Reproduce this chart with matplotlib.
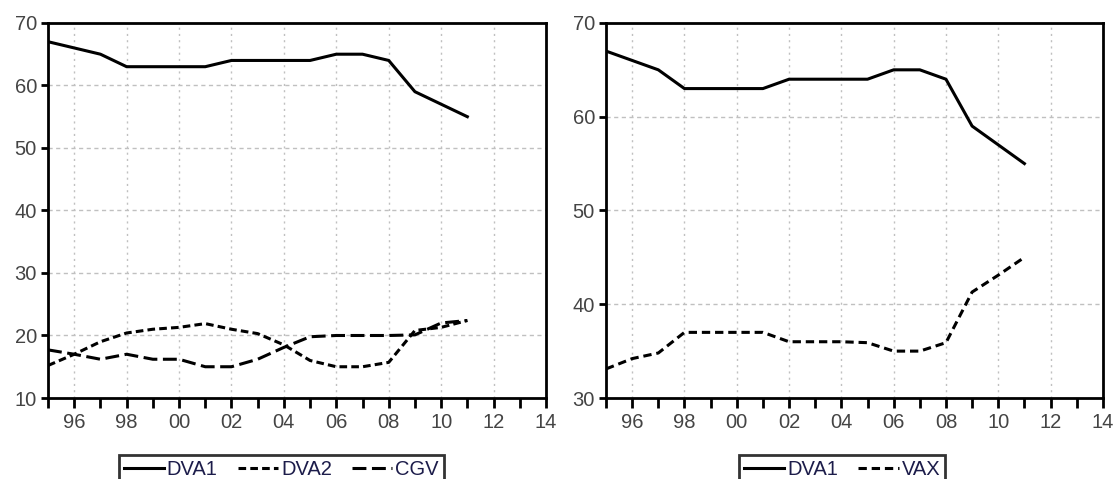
import matplotlib.pyplot as plt
import matplotlib.ticker as mticker
import numpy as np

# values (yearly, 1995-2011)
years = np.arange(1995, 2012)
dva1 = [67, 66, 65, 63, 63, 63, 63, 64, 64, 64, 64, 65, 65, 64, 59, 57, 55]
dva2 = [15.2, 17, 19, 20.4, 21, 21.3, 21.9, 21, 20.3, 18.5, 16, 15, 15, 15.7, 20.8, 21.3, 22.4]
cgv = [17.7, 17, 16.2, 17, 16.2, 16.2, 15, 15, 16.2, 18.1, 19.8, 20, 20, 20, 20.1, 22, 22.4]
vax = [33.1, 34.2, 34.8, 37, 37, 37, 37, 36, 36, 36, 35.9, 35, 35, 35.9, 41.3, 43.1, 45]

plt.rcParams['font.family'] = ['Liberation Sans', 'DejaVu Sans']
plt.rcParams['lines.scale_dashes'] = False

fig = plt.figure(figsize=(11.14, 4.79), dpi=100)
ax1 = fig.add_axes([0.0431, 0.1691, 0.447, 0.783])
ax2 = fig.add_axes([0.544, 0.1691, 0.446, 0.783])

lw = 2.2
tick_col = '#444444'


def style_axes(ax, ylim, yticks):
    ax.set_xlim(1995, 2014)
    ax.set_ylim(*ylim)
    ax.set_yticks(yticks)
    ax.xaxis.set_major_locator(mticker.MultipleLocator(2))
    ax.xaxis.set_minor_locator(mticker.MultipleLocator(1))
    ax.xaxis.set_major_formatter(mticker.FuncFormatter(lambda v, p: '%02d' % (int(round(v)) % 100)))
    for s in ax.spines.values():
        s.set_linewidth(2)
    ax.tick_params(axis='both', which='both', direction='out', width=2,
                   colors='black', labelcolor=tick_col, labelsize=14.5)
    ax.tick_params(axis='x', which='both', length=7, pad=4)
    ax.tick_params(axis='y', length=5, pad=3)
    ax.set_axisbelow(True)
    ax.grid(True, axis='x', which='major', color='#c0c0c0', linestyle=(0, (1.5, 3)), linewidth=1)
    ax.grid(True, axis='y', which='major', color='#c0c0c0', linestyle=(0, (3, 2.5)), linewidth=1)


style_axes(ax1, (10, 70), [10, 20, 30, 40, 50, 60, 70])
style_axes(ax2, (30, 70), [30, 40, 50, 60, 70])

ax1.plot(years, dva1, color='black', lw=lw, label='DVA1')
ax1.plot(years, dva2, color='black', lw=lw, dashes=(5.5, 3), label='DVA2')
ax1.plot(years, cgv, color='black', lw=lw, dashes=(10, 4), label='CGV')

ax2.plot(years, dva1, color='black', lw=lw, label='DVA1')
ax2.plot(years, vax, color='black', lw=lw, dashes=(6, 3.5), label='VAX')

for ax, cx, n in [(ax1, 0.2525, 3), (ax2, 0.756, 2)]:
    leg = ax.legend(loc='upper center', bbox_to_anchor=(cx, 0.05), bbox_transform=fig.transFigure,
                    ncol=n, frameon=True, fancybox=False, fontsize=14.5, handlelength=2.0,
                    handletextpad=0.15, columnspacing=1.0, borderpad=0.25, borderaxespad=0)
    leg.get_frame().set_edgecolor('black')
    leg.get_frame().set_linewidth(2)
    for t in leg.get_texts():
        t.set_color('#1c1c4a')

fig.savefig('out.png', dpi=100)
